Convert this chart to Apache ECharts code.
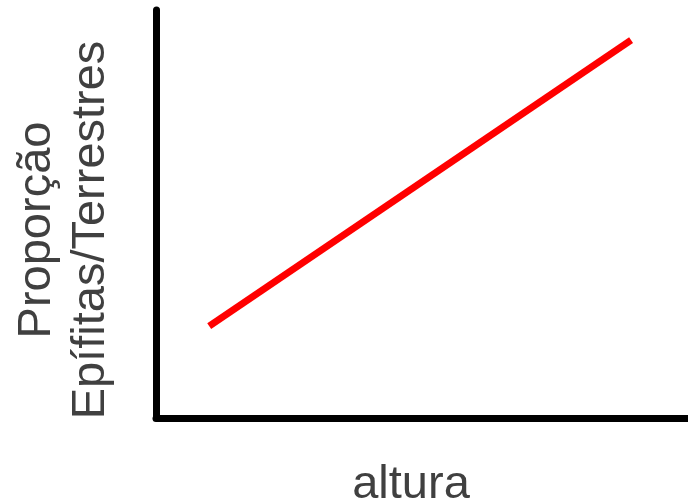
<!DOCTYPE html>
<html>
<head>
<meta charset="utf-8">
<script src="https://cdn.jsdelivr.net/npm/echarts@6/dist/echarts.min.js"></script>
<style>
html,body{margin:0;padding:0;background:#fff;}
#chart{width:688px;height:502px;}
</style>
</head>
<body>
<div id="chart"></div>
<script>
// Data
var alturaValues = [1.0, 8.93];
var proporcaoValues = [2.25, 9.26];
var xAxisTitle = 'altura';
var yAxisTitle = 'Proporção\nEpífitas/Terrestres';

var points = alturaValues.map(function (x, i) { return [x, proporcaoValues[i]]; });

var chart = echarts.init(document.getElementById('chart'), null, {renderer: 'canvas'});
var fontFamily = '"Liberation Sans", Arial, sans-serif';
chart.setOption({
  animation: false,
  backgroundColor: '#ffffff',
  grid: {left: 156, right: 0, top: 10, bottom: 84, containLabel: false, outerBoundsMode: 'none'},
  xAxis: {
    type: 'value', min: 0, max: 10,
    name: xAxisTitle, nameLocation: 'middle', nameGap: 44,
    nameTextStyle: {color: '#404040', fontSize: 47, fontFamily: fontFamily, lineHeight: 47, padding: [0, 22, 0, 0]},
    axisLine: {show: true, lineStyle: {color: '#000000', width: 7}},
    axisTick: {show: false}, axisLabel: {show: false}, splitLine: {show: false}
  },
  yAxis: {
    type: 'value', min: 0, max: 10,
    name: yAxisTitle, nameLocation: 'middle', nameGap: 38, nameRotate: 90,
    nameTextStyle: {color: '#404040', fontSize: 47, fontFamily: fontFamily, lineHeight: 54, padding: [0, 32, 0, 0]},
    axisLine: {show: true, lineStyle: {color: '#000000', width: 7}},
    axisTick: {show: false}, axisLabel: {show: false}, splitLine: {show: false}
  },
  series: [{
    type: 'line',
    data: points,
    symbol: 'none',
    lineStyle: {color: '#ff0000', width: 7, cap: 'butt'}
  }]
});
</script>
</body>
</html>
